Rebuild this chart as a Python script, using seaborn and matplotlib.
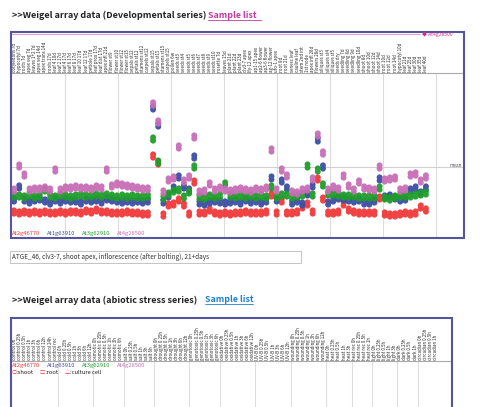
import numpy as np
import pandas as pd
import matplotlib
matplotlib.use("Agg")
import matplotlib.pyplot as plt
import seaborn as sns
from matplotlib.path import Path
from matplotlib.patches import Rectangle
from matplotlib.lines import Line2D
from matplotlib.transforms import blended_transform_factory

# ---- data ----
genes = ["At2g46770", "At1g63910", "At3g62910", "At4g28500"]
gene_colors = ["#f2393a", "#3d4ea3", "#1f9d2b", "#c86db5"]

dev_labels = [
    "cotyledons 7d", "hypocotyl 7d", "roots 7d", "apex veg 7d", "leaves 1+2 7d",
    "apex veg 14d", "apex trans 14d", "roots 17d", "leaf 4 10d", "leaf 2 17d",
    "leaf 4 17d", "leaf 6 17d", "leaf 8 17d", "leaf 10 17d", "leaf 12 17d",
    "petiole 17d", "leaf prox 17d", "leaf dist 17d", "apex infl 21d", "flower st9",
    "flower st10", "flower st12", "flower st15", "sepals st12", "petals st12",
    "stamens st12", "carpels st12", "sepals st15", "petals st15", "stamens st15",
    "carpels st15", "pollen 6w", "seeds st3", "seeds st4", "seeds st5",
    "seeds st6", "seeds st7", "seeds st8", "seeds st9", "seeds st10",
    "rosette 7d", "leaves 15d", "plant 21d", "plant 22d", "plant 23d",
    "clv3-7 apex", "lfy-12 apex", "ap1-15 apex", "ap2-6 flower", "ap3-6 flower",
    "ag-12 flower", "ufo-1 apex", "root 8d", "root 21d", "senesc leaf",
    "cauline leaf", "stem 2nd int", "1st node", "apex infl 28d", "flowers 28d",
    "siliques st3", "siliques st4", "siliques st5", "seeds dry", "seedling 7d",
    "seedling 8d", "seedling 9d", "seedling 10d", "shoot 8d", "shoot 10d",
    "shoot 12d", "shoot 14d", "root 10d", "root 12d", "root 14d",
    "hypocotyl 10d", "leaf 21d", "leaf 25d", "leaf 30d", "leaf 35d", "leaf 40d",
]

at2g46770 = [2.5, 2.4, 2.5, 2.4, 2.5, 2.4, 2.5, 2.4, 2.4, 2.5,
             2.4, 2.5, 2.5, 2.4, 2.6, 2.5, 2.7, 2.5, 2.5, 2.4,
             2.4, 2.4, 2.5, 2.4, 2.4, 2.3, 2.3, 8.1, 7.4, 2.2,
             3.2, 3.3, 3.7, 3.2, 2.3, 5.5, 2.4, 2.4, 2.7, 2.4,
             2.3, 2.4, 2.3, 2.4, 2.4, 2.5, 2.4, 2.4, 2.4, 2.5,
             4.2, 2.4, 3.6, 2.4, 2.4, 2.5, 3.0, 3.3, 2.5, 5.8,
             3.8, 2.4, 2.4, 2.5, 3.3, 2.7, 2.5, 2.4, 2.4, 2.4,
             2.4, 3.9, 2.3, 2.2, 2.2, 2.3, 2.4, 2.3, 2.4, 3.0, 2.7]
at1g63910 = [3.7, 5.0, 3.7, 3.5, 3.7, 3.8, 3.6, 3.4, 3.7, 3.5,
             3.7, 3.6, 3.6, 3.4, 3.7, 3.6, 3.7, 3.5, 3.8, 3.7,
             3.6, 3.5, 3.6, 3.5, 3.6, 3.5, 3.6, 12.9, 11.2, 3.5,
             4.1, 4.9, 6.0, 5.0, 4.7, 8.0, 3.4, 3.3, 3.5, 3.6,
             3.5, 3.4, 3.5, 3.6, 3.4, 3.7, 3.5, 3.6, 3.4, 3.6,
             5.9, 3.7, 5.6, 4.9, 3.4, 3.6, 3.3, 4.3, 5.1, 9.7,
             7.0, 3.4, 3.7, 3.9, 3.8, 3.7, 3.6, 3.7, 3.4, 3.4,
             3.6, 5.8, 4.0, 4.1, 3.9, 3.7, 3.8, 4.7, 4.9, 4.4, 4.9]
at3g62910 = [4.1, 4.1, 4.0, 4.2, 4.0, 4.1, 4.7, 4.1, 4.0, 4.2,
             4.1, 4.0, 4.1, 4.2, 4.1, 4.1, 4.2, 4.1, 4.2, 4.1,
             4.0, 4.1, 4.0, 4.1, 4.0, 4.0, 4.1, 9.8, 7.5, 3.9,
             4.3, 4.6, 4.7, 4.0, 4.5, 7.0, 4.0, 3.9, 4.1, 4.0,
             4.1, 5.3, 4.1, 4.0, 4.1, 4.0, 4.1, 4.0, 4.1, 4.0,
             5.0, 4.0, 4.2, 4.2, 4.0, 4.1, 4.2, 7.1, 4.2, 6.7,
             5.2, 4.3, 4.3, 4.2, 4.1, 4.1, 4.1, 4.0, 4.0, 4.0,
             4.0, 4.9, 3.9, 3.8, 4.0, 4.1, 4.1, 4.1, 4.2, 4.3, 4.4]
at4g28500 = [4.7, 7.1, 6.2, 4.7, 4.8, 4.8, 4.9, 4.7, 6.7, 4.7,
             4.9, 4.9, 5.0, 4.9, 4.9, 4.8, 5.0, 4.9, 6.7, 5.1,
             5.3, 5.2, 5.1, 5.0, 4.9, 4.8, 4.8, 13.3, 11.5, 4.5,
             5.7, 5.9, 9.0, 5.6, 6.0, 10.0, 4.5, 4.6, 5.3, 4.7,
             4.9, 4.7, 4.6, 4.7, 4.8, 4.7, 4.6, 4.8, 4.7, 4.9,
             8.7, 4.7, 6.7, 6.1, 4.5, 4.4, 4.7, 4.8, 5.8, 10.2,
             8.4, 4.7, 5.0, 4.8, 6.1, 5.1, 4.7, 5.5, 4.9, 4.8,
             4.7, 7.0, 5.7, 5.8, 5.9, 4.7, 4.8, 6.2, 6.3, 5.6, 6.0]
mean_level = 7.0

stress_groups = ["control", "cold", "osmotic", "salt", "drought", "genotoxic", "oxidative",
                 "UV-B", "wounding", "heat", "heat rec", "light", "dark", "circadian"]
stress_sizes = [9, 7, 6, 6, 7, 6, 7, 7, 7, 5, 4, 5, 4, 4]
stress_times = ["0h", "0.25h", "0.5h", "1h", "3h", "6h", "12h", "24h", "rec"]

selected = "ATGE_46, clv3-7, shoot apex, inflorescence (after bolting), 21+days"

# ---- figure ----
sns.set_theme(style="white")
plt.rcParams['font.family'] = ['Noto Sans CJK JP', 'DejaVu Sans']

W, H = 484, 407
fig = plt.figure(figsize=(W / 100, H / 100), dpi=100)
fig.patch.set_facecolor("white")


def fx(px):
    return px / W


def fy(py):
    return 1 - py / H


def hline(x0, x1, y, color, lw=0.6):
    fig.add_artist(Line2D([fx(x0), fx(x1)], [fy(y), fy(y)], color=color, lw=lw,
                          transform=fig.transFigure))


# two stacked replicate dots
pair_marker = Path.make_compound_path(Path.circle((0, -0.28), 0.5), Path.circle((0, 0.28), 0.5))

# titles
fig.text(fx(12), fy(15.5), ">>Weigel array data (Developmental series)", fontsize=6.5,
         fontweight="bold", color="#222222", va="center")
fig.text(fx(208), fy(15.5), "Sample list", fontsize=6.3, fontweight="bold",
         color="#c2399a", va="center")
hline(208, 261, 19.8, "#c2399a")

# developmental chart
ax = fig.add_axes([fx(12), fy(237), (463 - 12) / W, (237 - 73) / H])
df = pd.concat([pd.DataFrame({"sample": np.arange(len(dev_labels)), "value": v, "gene": g})
                for g, v in zip(genes, [at2g46770, at1g63910, at3g62910, at4g28500])])
sns.scatterplot(data=df, x="sample", y="value", hue="gene", hue_order=genes,
                palette=gene_colors, marker=pair_marker, s=44, linewidth=0,
                alpha=0.95, legend=False, ax=ax, zorder=3)
ax.set_xlim(-0.4, 87.2)
ax.set_ylim(0, 16.4)
x0, x1 = ax.get_xlim()
for k in range(1, 9):
    ax.axvline(x0 + (x1 - x0) * k / 8.5, color="#dcdcdc", lw=0.8, zorder=1)
ax.axhline(mean_level, color="#d0d0d0", lw=0.8, zorder=1)
ax.set_xticks([])
ax.set_yticks([])
ax.set_xlabel("")
ax.set_ylabel("")
for side in ["left", "right", "bottom"]:
    ax.spines[side].set_visible(False)
ax.spines["top"].set_color("#aaaaaa")
ax.spines["top"].set_linewidth(0.8)

trans = blended_transform_factory(ax.transData, ax.transAxes)
for i, lab in enumerate(dev_labels):
    ax.text(i, 1.006, lab, rotation=90, fontsize=3.2, ha="center", va="bottom",
            color="#2a2a2a", transform=trans, clip_on=False)

fig.text(fx(462), fy(165), "mean", fontsize=3.4, ha="right", va="center", color="#555555")
fig.text(fx(422), fy(34), "\u25c6 At4g28500", fontsize=3.6, color="#d0308c", va="center")
hline(12, 420, 34, "#e08ac8", lw=0.6)

for name, c, px in zip(genes, gene_colors, [12, 47, 82, 117]):
    fig.text(fx(px), fy(233), name, fontsize=4.2, color=c, va="center")

fig.add_artist(Rectangle((fx(10.5), fy(237.5)), (463.5 - 10.5) / W, (237.5 - 32) / H,
                         transform=fig.transFigure, fill=False, edgecolor="#55559f", lw=1.5))

# selected sample box
fig.add_artist(Rectangle((fx(10), fy(263)), (301 - 10) / W, 12 / H, transform=fig.transFigure,
                         fill=False, edgecolor="#c4c4c4", lw=0.7))
fig.text(fx(12), fy(257), selected, fontsize=4.6, color="#333333", va="center")

# abiotic stress block
fig.text(fx(12), fy(300), ">>Weigel array data (abiotic stress series)", fontsize=6.5,
         fontweight="bold", color="#222222", va="center")
fig.text(fx(205), fy(300), "Sample list", fontsize=6.3, fontweight="bold",
         color="#1e7fd0", va="center")
hline(205, 253, 304.3, "#1e7fd0")

stress_labels = []
for grp, n in zip(stress_groups, stress_sizes):
    stress_labels += [grp + " " + t for t in stress_times[:n]]

ax2 = fig.add_axes([fx(12), 0, (451 - 12) / W, fy(361)])
ax2.set_xlim(0, 86.6)
ax2.set_ylim(0, 1)
for b in np.cumsum(stress_sizes)[:-1]:
    ax2.axvline(b, color="#dedede", lw=0.8)
ax2.set_xticks([])
ax2.set_yticks([])
for side in ["left", "right", "bottom"]:
    ax2.spines[side].set_visible(False)
ax2.spines["top"].set_color("#aaaaaa")
ax2.spines["top"].set_linewidth(0.8)
trans2 = blended_transform_factory(ax2.transData, ax2.transAxes)
for i, lab in enumerate(stress_labels):
    ax2.text(i + 0.5, 1.02, lab, rotation=90, fontsize=3.2, ha="center", va="bottom",
             color="#2a2a2a", transform=trans2, clip_on=False)

for name, c, px in zip(genes, gene_colors, [12, 47, 82, 117]):
    fig.text(fx(px), fy(366), name, fontsize=4.2, color=c, va="center")
fig.text(fx(11.5), fy(373), "\u25cb", fontsize=3.8, color="#f2393a", va="center")
fig.text(fx(17), fy(373), ":shoot", fontsize=4.2, color="#222222", va="center")
fig.text(fx(40), fy(373), "\u25a1", fontsize=3.8, color="#f2393a", va="center")
fig.text(fx(45.5), fy(373), ":root", fontsize=4.2, color="#222222", va="center")
fig.text(fx(65), fy(373), "\u25b3", fontsize=3.8, color="#f2393a", va="center")
fig.text(fx(70.5), fy(373), ":culture cell", fontsize=4.2, color="#222222", va="center")

fig.add_artist(Rectangle((fx(10.5), fy(440)), (452 - 10.5) / W, (440 - 318) / H,
                         transform=fig.transFigure, fill=False, edgecolor="#55559f", lw=1.5))

fig.savefig("out.png", dpi=100, facecolor="white")
